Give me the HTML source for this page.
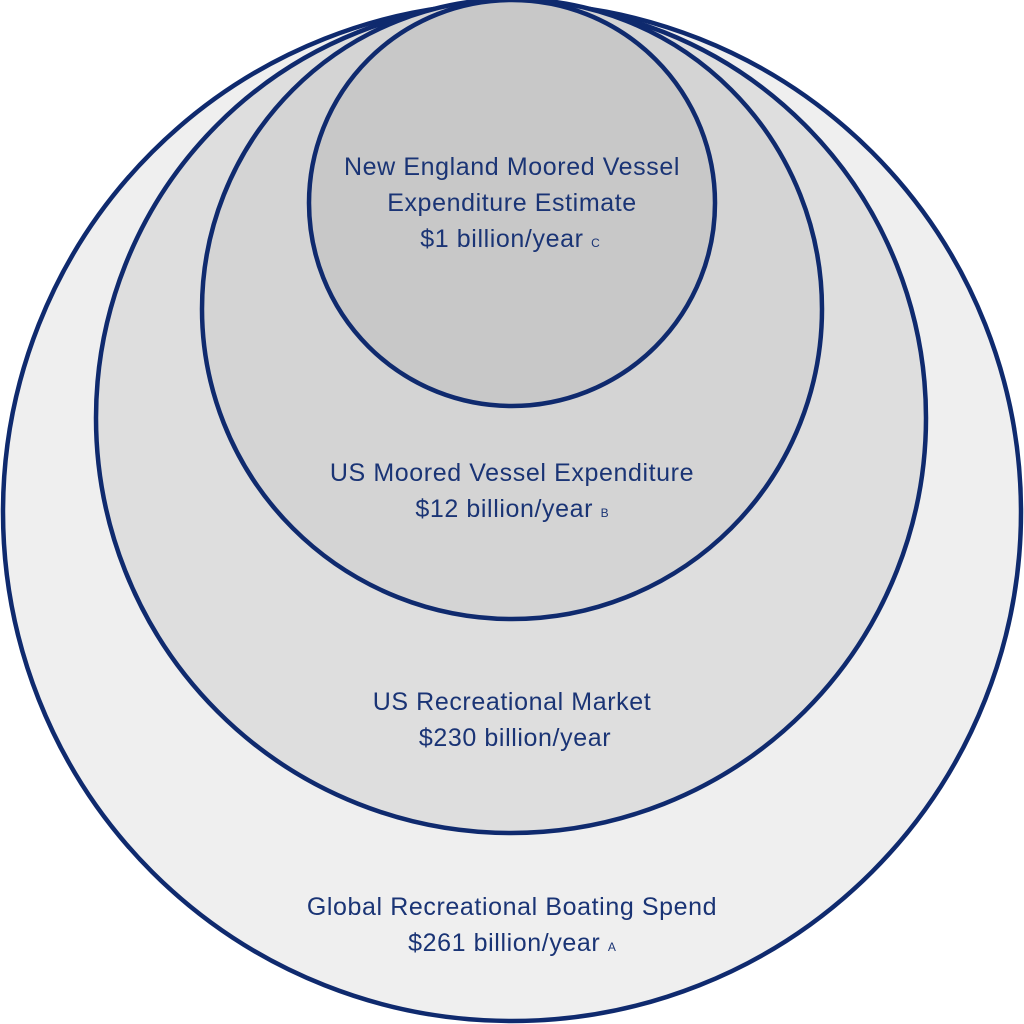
<!DOCTYPE html>
<html><head><style>
html,body{margin:0;padding:0;background:#fff;width:1024px;height:1024px;overflow:hidden}
text{font-family:"Liberation Sans",sans-serif;fill:#1a3475;font-size:25px;letter-spacing:0.6px}
.s{font-size:12px;letter-spacing:0}
</style></head><body>
<svg width="1024" height="1024" viewBox="0 0 1024 1024">
<g stroke="#0f2a6e" stroke-width="4.5">
<circle cx="512" cy="512" r="509" fill="#efefef"/>
<circle cx="511" cy="418" r="415" fill="#dedede"/>
<circle cx="512" cy="309" r="310" fill="#d4d4d4"/>
<circle cx="512" cy="203" r="203" fill="#c8c8c8"/>
</g>
<g text-anchor="middle">
<text x="512" y="175">New England Moored Vessel</text>
<text x="512" y="211">Expenditure Estimate</text>
<text x="510" y="247">$1 billion/year <tspan class="s">C</tspan></text>
<text x="512" y="481">US Moored Vessel Expenditure</text>
<text x="512" y="517">$12 billion/year <tspan class="s">B</tspan></text>
<text x="512" y="710">US Recreational Market</text>
<text x="515" y="746">$230 billion/year</text>
<text x="512" y="915">Global Recreational Boating Spend</text>
<text x="512" y="951">$261 billion/year <tspan class="s">A</tspan></text>
</g>
</svg>
</body></html>
